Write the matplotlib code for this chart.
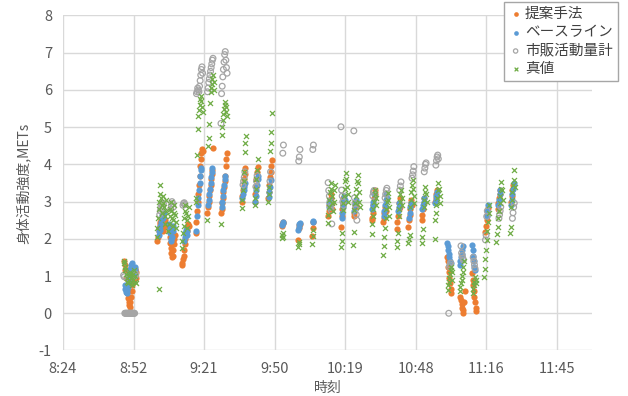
import matplotlib.pyplot as plt
import numpy as np
from matplotlib.ticker import FuncFormatter, FixedLocator, MultipleLocator

plt.rcParams['font.family'] = ['Noto Sans CJK JP', 'DejaVu Sans']
plt.rcParams['axes.unicode_minus'] = False

# one reading every 15 s inside each measured stretch
SAMPLE_SEC = 15

series_names = ['提案手法', 'ベースライン', '市販活動量計', '真値']

# x axis: 8:24 to 12:00, a tick every 0.02 day
x_start, x_end, x_step = 0.35, 0.50, 0.02

# (start time, values) for each stretch, METs
proposed = [
    ('8:49:00', [1.40, 1.30, 1.15, 0.95, 0.75, 0.55, 0.40, 0.30, 0.22, 0.18, 0.30,
                 0.45, 0.60, 0.75, 0.85, 0.95, 1.05, 1.15, 1.20, 1.10, 0.95]),
    ('9:02:30', [1.95, 2.05, 2.20, 2.30, 2.40, 2.45, 2.35, 2.50, 2.45, 2.30, 2.20, 2.40, 2.50]),
    ('9:07:00', [2.35, 2.20, 2.05, 1.90, 1.75, 1.62, 1.50, 1.55, 1.70, 1.85, 2.00, 2.10]),
    ('9:12:30', [1.30, 1.35, 1.45, 1.55, 1.70, 1.85, 2.00, 2.10, 2.20, 2.30, 2.40, 2.35]),
    ('9:18:15', [2.15, 2.45, 2.75, 3.00, 3.20, 3.45, 3.70, 3.95, 4.15, 4.30, 4.40, 4.35]),
    ('9:23:00', [2.70, 2.85, 3.00, 3.15, 3.30, 3.45, 3.60, 3.75, 3.85, 4.45]),
    ('9:28:30', [2.70, 2.80, 2.95, 3.10, 3.25, 3.40, 3.55, 3.70, 3.95, 4.15, 4.30]),
    ('9:37:00', [3.00, 3.15, 3.30, 3.45, 3.60, 3.75, 3.90]),
    ('9:42:15', [3.00, 3.20, 3.40, 3.60, 3.80, 3.94]),
    ('9:47:45', [3.10, 3.25, 3.45, 3.65, 3.80, 3.95, 4.12]),
    ('9:53:15', [2.35, 2.40, 2.46, 2.42]),
    ('10:00:00', [1.97, 2.30, 2.38, 2.40]),
    ('10:05:45', [2.08, 2.30, 2.46]),
    ('10:12:15', [2.60, 2.75, 2.90, 3.05, 3.20, 3.10, 2.95, 2.80]),
    ('10:17:30', [2.31, 2.61, 2.80, 2.95, 3.10]),
    ('10:22:45', [2.60, 2.70, 2.85, 3.00, 2.90]),
    ('10:30:00', [2.50, 2.55, 2.70, 2.90, 3.10, 3.30, 3.20]),
    ('10:34:45', [2.45, 2.55, 2.70, 2.85, 2.75]),
    ('10:40:15', [2.26, 2.45, 2.60, 2.80, 2.95, 3.10, 2.85]),
    ('10:45:00', [2.33, 2.50, 2.65, 2.80, 2.95, 3.04, 2.90]),
    ('10:50:30', [2.50, 2.65, 2.80, 2.95, 3.10]),
    ('10:56:00', [3.00, 3.10, 3.20, 3.30]),
    ('11:00:45', [1.52, 1.40, 1.25, 1.10, 0.95, 0.80, 0.65, 0.54]),
    ('11:06:15', [0.45, 0.35, 0.25, 0.15, 0.08, 0.02, 0.30, 0.60]),
    ('11:11:00', [1.08, 0.90, 0.75, 0.60, 0.45, 0.30, 0.15, 0.05]),
    ('11:16:30', [2.18, 2.35, 2.50, 2.65, 2.83]),
    ('11:21:30', [2.80, 2.95, 3.10, 3.20, 3.30]),
    ('11:27:00', [3.00, 3.15, 3.30, 3.45]),
]

baseline = [
    ('8:49:15', [0.75, 0.65, 0.58, 0.55, 0.62, 0.70, 0.85, 1.00, 1.10, 1.20, 1.30,
                 1.35, 1.28, 1.20, 1.10, 1.05, 1.15, 1.25]),
    ('9:03:00', [2.10, 2.20, 2.25, 2.35, 2.45, 2.55, 2.65, 2.60, 2.55, 2.70]),
    ('9:07:15', [2.40, 2.30, 2.15, 2.00, 1.95, 2.05, 2.20, 2.35]),
    ('9:13:30', [1.95, 2.05, 2.15, 2.25, 2.20, 2.10]),
    ('9:18:30', [2.20, 2.60, 2.90, 3.10, 3.30, 3.50, 3.70, 3.85, 3.90]),
    ('9:23:15', [2.90, 3.05, 3.20, 3.35, 3.50, 3.65, 3.80, 3.90]),
    ('9:28:45', [2.85, 3.00, 3.15, 3.30, 3.45, 3.60, 3.70]),
    ('9:37:15', [3.10, 3.20, 3.30, 3.40, 3.50]),
    ('9:42:30', [3.00, 3.15, 3.30, 3.45, 3.60, 3.70]),
    ('9:48:00', [3.13, 3.25, 3.40, 3.58]),
    ('9:53:30', [2.37, 2.42, 2.46]),
    ('10:00:00', [2.24, 2.32, 2.40, 2.43]),
    ('10:06:00', [2.44, 2.48]),
    ('10:12:30', [2.85, 2.95, 3.05, 2.95]),
    ('10:17:45', [2.56, 2.70, 2.85, 3.00, 3.15, 3.05]),
    ('10:23:00', [2.75, 2.90, 3.05, 3.00]),
    ('10:30:15', [2.80, 2.90, 3.00, 3.20]),
    ('10:35:00', [2.60, 2.75, 2.90, 3.05, 3.20, 3.10]),
    ('10:40:45', [2.75, 2.85, 2.95]),
    ('10:45:15', [2.56, 2.70, 2.85, 2.96]),
    ('10:50:45', [2.80, 2.90, 3.00, 3.10]),
    ('10:56:00', [2.95, 3.05, 3.15, 3.25]),
    ('11:00:45', [1.88, 1.80, 1.70, 1.60, 1.50, 1.40, 1.34]),
    ('11:06:00', [1.30, 1.40, 1.50, 1.60, 1.70, 1.80]),
    ('11:11:00', [1.83, 1.70, 1.55, 1.40, 1.25, 1.16]),
    ('11:17:00', [2.60, 2.75, 2.90]),
    ('11:21:45', [2.90, 3.05, 3.20, 3.30]),
    ('11:27:00', [2.90, 3.05, 3.20, 3.35, 3.50]),
]

commercial = [
    ('8:48:45', [1.02, 0.98, 0, 0, 0, 0, 0, 0, 0, 0, 0, 0, 0, 0, 0, 0, 0, 0, 0, 1.00, 1.05]),
    ('9:03:30', [2.65, 2.75, 2.85, 2.95, 2.90, 2.80, 2.95]),
    ('9:08:00', [2.80, 2.90, 3.00, 2.95, 2.85]),
    ('9:13:00', [2.90, 2.95, 2.97, 2.92]),
    ('9:18:30', [5.90, 5.95, 6.05, 6.00, 5.95, 6.10, 6.25, 6.40, 6.55, 6.62, 6.45]),
    ('9:23:00', [5.95, 6.05, 6.20, 6.30, 6.40, 6.50, 6.60, 6.70, 6.80, 6.85]),
    ('9:28:30', [5.10, 5.90, 6.10, 6.35, 6.55, 6.75, 6.95, 7.03, 6.80, 6.60, 6.45]),
    ('9:37:30', [3.45, 3.55, 3.65, 3.80]),
    ('9:42:45', [3.40, 3.55, 3.70]),
    ('9:48:30', [3.55, 3.80]),
    ('9:53:45', [4.30, 4.52]),
    ('10:00:15', [4.09, 4.20, 4.40]),
    ('10:06:00', [4.40, 4.52]),
    ('10:12:15', [3.51, 3.30, 3.15, 3.00, 2.85, 2.77, 2.40]),
    ('10:17:30', [5.01, 3.31, 3.15, 3.00, 2.90]),
    ('10:22:45', [4.90, 3.10, 2.95, 2.80, 2.65, 2.50]),
    ('10:30:30', [3.15, 3.25, 3.30]),
    ('10:35:30', [3.10, 3.20, 3.30, 3.36]),
    ('10:41:30', [3.31, 3.42, 3.53]),
    ('10:46:30', [3.63, 3.72, 3.82, 3.94]),
    ('10:51:30', [3.80, 3.90, 4.00, 4.04]),
    ('10:56:15', [3.98, 4.10, 4.20, 4.25, 4.15]),
    ('11:01:30', [0.00, 1.25, 1.30, 1.35]),
    ('11:06:30', [1.81, 1.62, 1.55, 1.48, 1.43]),
    ('11:11:30', [1.50, 1.40, 1.30, 1.20]),
    ('11:16:30', [1.97, 2.10, 2.60, 2.75]),
    ('11:22:00', [2.55, 2.65, 2.75, 2.86]),
    ('11:27:30', [2.55, 2.70, 2.85, 2.96]),
]

truth = [
    ('8:48:45', [1.40, 1.35, 1.25, 1.15, 1.05, 0.95, 0.85, 0.80, 0.90, 1.00, 1.10,
                 1.05, 0.95, 0.85, 0.75, 0.90, 1.05, 1.15, 1.00, 0.85, 0.80]),
    ('9:02:15', [2.05, 2.30, 2.55, 2.80, 3.00, 3.20, 3.45, 3.10, 2.90, 2.70, 2.95,
                 3.15, 2.85, 2.60, 2.40, 2.75, 3.05]),
    ('9:03:00', [0.64]),
    ('9:07:00', [2.20, 2.40, 2.60, 2.80, 3.00, 2.75, 2.55, 2.35, 2.50, 2.70, 2.90, 2.65, 2.45, 2.30]),
    ('9:12:30', [1.75, 1.95, 2.15, 2.35, 2.55, 2.75, 2.90, 2.70, 2.50, 2.30, 2.60, 2.85]),
    ('9:18:15', [3.00, 3.10, 4.25, 4.95, 5.30, 5.45, 5.60, 5.75, 5.85, 5.70, 5.55, 5.40]),
    ('9:23:00', [2.50, 4.50, 4.70, 5.08, 5.65, 5.95, 6.05, 6.15, 6.30, 6.40, 6.20, 6.00]),
    ('9:28:30', [2.40, 4.80, 5.00, 5.20, 5.35, 5.50, 5.60, 5.68, 5.55, 5.40, 5.30]),
    ('9:37:00', [2.82, 3.05, 3.30, 3.55, 3.80, 4.32, 4.57, 4.76]),
    ('9:42:15', [2.90, 3.10, 3.35, 3.60, 3.85, 4.14]),
    ('9:47:45', [3.00, 3.20, 3.40, 4.36, 4.57, 4.86, 5.39]),
    ('9:53:15', [2.02, 2.10, 2.16, 2.05]),
    ('10:00:00', [1.79, 1.85, 1.92]),
    ('10:05:45', [1.85, 2.08, 2.24]),
    ('10:12:00', [2.43, 2.65, 2.85, 3.05, 3.25, 3.50, 3.35, 3.15, 2.95, 2.75, 3.00, 3.30, 3.45]),
    ('10:17:30', [1.78, 1.95, 2.16, 2.77, 2.95, 3.15, 3.35, 3.55, 3.77, 3.60, 3.40, 3.20, 3.00]),
    ('10:22:30', [1.83, 2.19, 2.77, 2.95, 3.15, 3.35, 3.55, 3.72, 3.50, 3.25, 3.00, 2.85]),
    ('10:30:00', [2.12, 2.40, 2.60, 2.80, 3.00, 3.20, 3.30, 3.10, 2.90]),
    ('10:34:45', [1.57, 1.80, 2.05, 2.30, 2.55, 2.80, 3.00, 3.23, 3.05, 2.85, 2.60]),
    ('10:40:15', [1.78, 1.95, 2.15, 2.60, 2.80, 3.00, 3.20, 3.30, 3.10, 2.90]),
    ('10:45:00', [1.90, 2.00, 2.10, 2.86, 3.05, 3.25, 3.45, 3.58, 3.35, 3.15, 2.95]),
    ('10:50:30', [1.88, 2.06, 2.26, 2.86, 3.05, 3.25, 3.40, 3.20, 3.00]),
    ('10:55:45', [1.99, 2.50, 2.70, 2.90, 3.10, 3.30, 3.50, 3.35, 3.15, 2.95]),
    ('11:01:00', [0.63, 0.75, 0.85, 0.95, 1.05, 1.15, 1.25, 1.10, 0.90]),
    ('11:06:00', [0.60, 0.70, 0.80, 0.90, 1.00, 1.10, 1.25, 1.40]),
    ('11:11:15', [0.54, 0.65, 0.75, 0.85, 0.98, 0.90, 0.80]),
    ('11:16:00', [0.98, 1.20, 1.45, 1.70, 1.97, 2.20, 2.45, 2.70, 2.90]),
    ('11:21:00', [1.91, 2.12, 2.33, 2.55, 2.75, 2.95, 3.15, 3.35, 3.53, 3.30, 3.05]),
    ('11:26:30', [2.15, 2.33, 2.86, 3.05, 3.25, 3.45, 3.58, 3.85, 3.40]),
]


def to_day(t):
    h, m, s = map(int, t.split(':'))
    return (h * 3600 + m * 60 + s) / 86400


def unpack(segments):
    xs, ys = [], []
    for start, vals in segments:
        t0 = to_day(start)
        for i, v in enumerate(vals):
            xs.append(t0 + i * SAMPLE_SEC / 86400)
            ys.append(v)
    return np.array(xs), np.array(ys)


def time_label(v, pos):
    secs = int(round(v * 86400))
    return f"{secs // 3600}:{(secs % 3600) // 60:02d}"


fig = plt.figure(figsize=(6.28, 3.96), dpi=100)
ax = fig.add_axes([0.1003, 0.1149, 0.8424, 0.846])

x, y = unpack(proposed)
ax.scatter(x, y, s=20, color='#ED7D31', linewidths=0, label=series_names[0], zorder=3)
x, y = unpack(baseline)
ax.scatter(x, y, s=20, color='#5B9BD5', linewidths=0, label=series_names[1], zorder=3)
x, y = unpack(commercial)
ax.scatter(x, y, s=17, facecolors='none', edgecolors='#A5A5A5', linewidths=0.9,
           label=series_names[2], zorder=3)
x, y = unpack(truth)
ax.scatter(x, y, s=13, marker='x', color='#70AD47', linewidths=0.9,
           label=series_names[3], zorder=3)

ax.set_xlim(x_start, x_end)
ax.set_ylim(-1, 8)
ax.xaxis.set_major_locator(FixedLocator(np.arange(x_start, x_end - 1e-9, x_step)))
ax.xaxis.set_major_formatter(FuncFormatter(time_label))
ax.yaxis.set_major_locator(MultipleLocator(1))
ax.grid(True, color='#D9D9D9', linewidth=1)
ax.set_axisbelow(True)
for sp in ax.spines.values():
    sp.set_visible(False)
ax.tick_params(length=0, labelsize=10.5, colors='#595959', pad=8)
ax.set_xlabel('時刻', fontsize=10, color='#595959', labelpad=4)
ax.set_ylabel('身体活動強度,METs', fontsize=10, color='#595959', labelpad=6)

leg = fig.legend(loc='upper right', bbox_to_anchor=(0.984, 0.995), fontsize=10.5,
                 fancybox=False, edgecolor='#A6A6A6', framealpha=1,
                 handletextpad=0.2, borderpad=0.35, labelspacing=0.3,
                 markerscale=0.75, handlelength=0.9, borderaxespad=0)
leg.get_frame().set_linewidth(1)
for t in leg.get_texts():
    t.set_color('#404040')

fig.savefig('out.png', dpi=100)
